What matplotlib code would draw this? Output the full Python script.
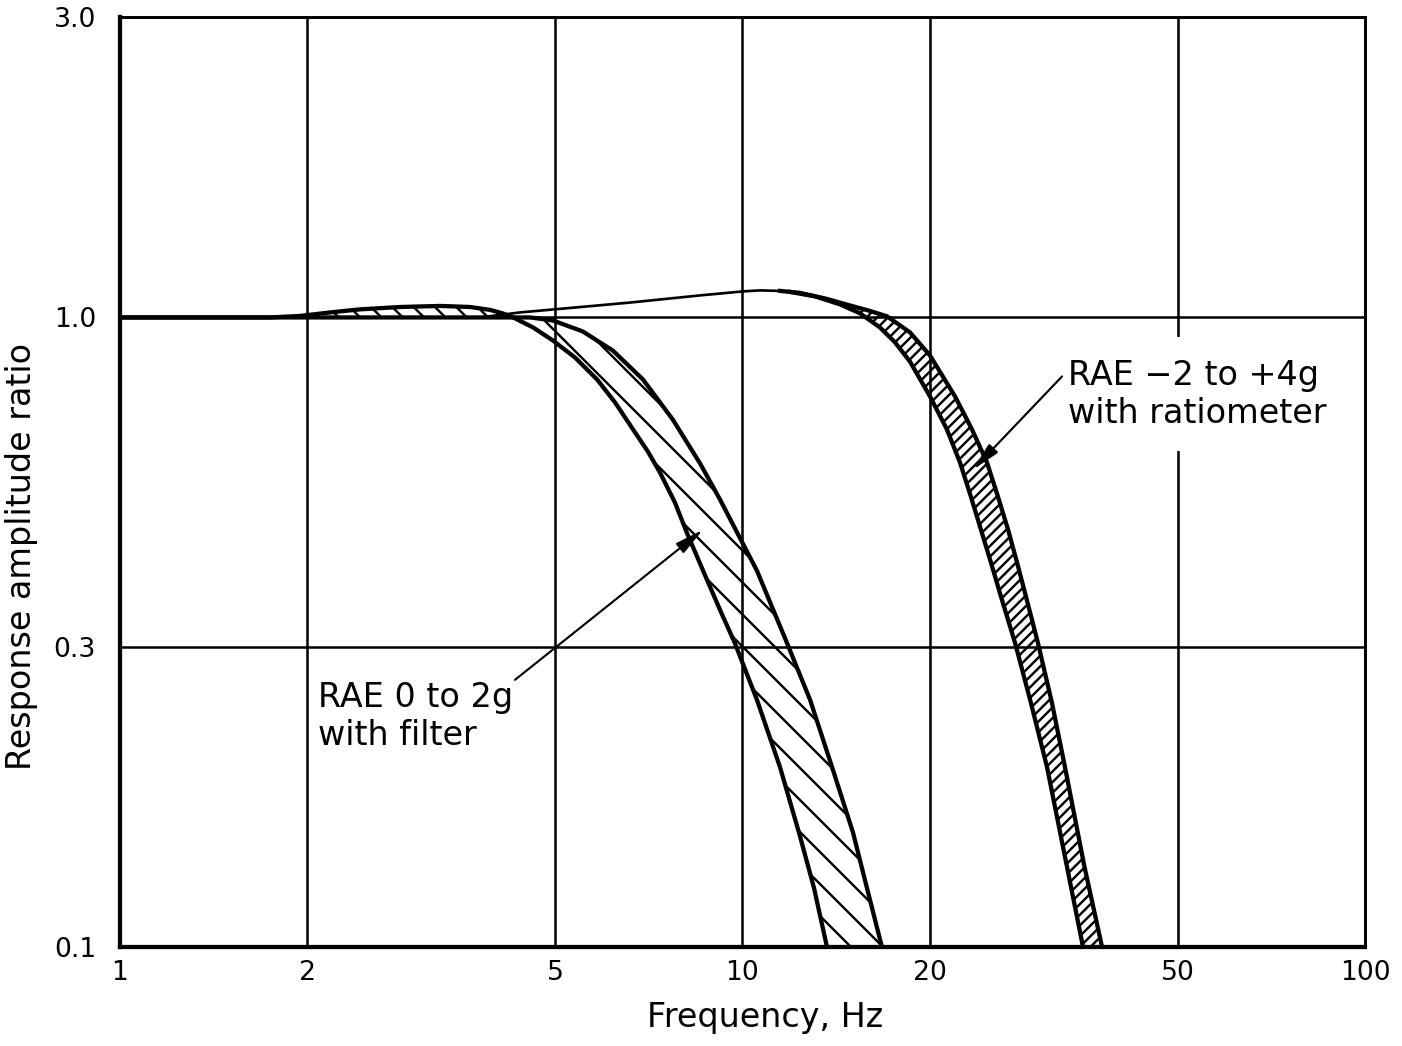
import matplotlib.pyplot as plt

# Filter channel (RAE 0 to 2g): lower edge of the response band,
# including the small rise above unity between 2 and 4 Hz
filt_lo_freq = [1.0, 1.742, 1.946, 2.175, 2.43, 2.82, 3.27, 3.65, 3.93, 4.12, 4.28,
                4.61, 4.96, 5.38, 5.84, 6.24, 6.67, 7.05, 7.37, 7.79, 8.14, 8.77,
                9.24, 9.72, 10.55, 11.49, 12.37, 13.03, 13.67]
filt_lo_amp = [1.0, 1.0, 1.0055, 1.0185, 1.030, 1.039, 1.043, 1.039, 1.028, 1.015, 1.0,
               0.964, 0.919, 0.864, 0.797, 0.733, 0.664, 0.612, 0.567, 0.508, 0.455, 0.383,
               0.340, 0.304, 0.247, 0.193, 0.150, 0.124, 0.1]

# Filter channel: upper edge of the response band
filt_hi_freq = [1.0, 4.56, 4.96, 5.54, 6.19, 6.92, 7.73, 8.55, 9.20, 9.83, 10.55,
                11.79, 12.84, 13.93, 15.05, 15.85, 16.75]
filt_hi_amp = [1.0, 1.0, 0.989, 0.950, 0.886, 0.797, 0.688, 0.586, 0.514, 0.453, 0.396,
               0.304, 0.247, 0.193, 0.152, 0.124, 0.1]

# Ratiometer channel (RAE -2 to +4g): outer edge
ratio_out_freq = [1.0, 3.79, 4.39, 5.38, 6.60, 8.55, 10.02, 10.67, 11.49, 12.37, 13.57,
                  14.88, 16.03, 17.07, 18.58, 20.01, 21.95, 23.37, 24.71, 25.73, 26.71,
                  27.61, 28.54, 29.83, 31.42, 32.97, 35.38, 37.81]
ratio_out_amp = [1.0, 1.0, 1.0185, 1.037, 1.056, 1.084, 1.100, 1.104, 1.102, 1.094, 1.072,
                 1.045, 1.024, 1.004, 0.947, 0.870, 0.749, 0.664, 0.588, 0.519, 0.460,
                 0.408, 0.360, 0.304, 0.244, 0.193, 0.135, 0.1]

# Ratiometer channel: inner edge, splitting off the outer one near 12 Hz
ratio_in_freq = [11.92, 13.08, 14.34, 15.45, 16.63, 17.58, 18.58, 20.01, 21.30, 22.36,
                 23.28, 24.16, 25.07, 26.02, 27.41, 29.07, 30.85, 32.97, 35.24]
ratio_in_amp = [1.098, 1.080, 1.049, 1.015, 0.964, 0.913, 0.851, 0.749, 0.664, 0.588,
                0.519, 0.460, 0.408, 0.360, 0.304, 0.244, 0.193, 0.139, 0.1]

x_ticks = [1, 2, 5, 10, 20, 50, 100]
x_labels = ["1", "2", "5", "10", "20", "50", "100"]
y_ticks = [0.1, 0.3, 1.0, 3.0]
y_labels = ["0.1", "0.3", "1.0", "3.0"]

plt.rcParams["font.family"] = ["DejaVu Sans"]
plt.rcParams["hatch.color"] = "black"
plt.rcParams["hatch.linewidth"] = 0.9
plt.rcParams["lines.solid_joinstyle"] = "round"

dpi = 192
fig = plt.figure(figsize=(1402 / dpi, 1046 / dpi), dpi=dpi)
ax = fig.add_axes([0.0856, 0.0946, 0.888, 0.8891])
ax.set_xscale("log")
ax.set_yscale("log")
ax.set_xlim(1, 100)
ax.set_ylim(0.1, 3.0)

# hatched bands
ax.fill_between(filt_lo_freq[:11], filt_lo_amp[:11], 1.0, facecolor="none",
                edgecolor="black", linewidth=0, hatch="\\\\\\")
ax.fill(filt_lo_freq[10:] + filt_hi_freq[:0:-1], filt_lo_amp[10:] + filt_hi_amp[:0:-1],
        facecolor="none", edgecolor="black", linewidth=0, hatch="\\\\")
ax.fill(ratio_out_freq[8:] + ratio_in_freq[::-1], ratio_out_amp[8:] + ratio_in_amp[::-1],
        facecolor="none", edgecolor="black", linewidth=0, hatch="//////")

# band edges
ax.plot(filt_lo_freq, filt_lo_amp, color="black", lw=1.6)
ax.plot(filt_hi_freq, filt_hi_amp, color="black", lw=1.6)
ax.plot(ratio_out_freq, ratio_out_amp, color="black", lw=1.0)
ax.plot(ratio_out_freq[8:], ratio_out_amp[8:], color="black", lw=1.6)
ax.plot(ratio_in_freq, ratio_in_amp, color="black", lw=1.6)

ax.set_xticks(x_ticks, x_labels)
ax.set_yticks(y_ticks, y_labels)
ax.minorticks_off()
ax.tick_params(length=0, labelsize=10)
ax.tick_params(axis="x", pad=5)
ax.tick_params(axis="y", pad=9)
ax.grid(True, color="black", lw=0.95)

for side, w in [("left", 1.6), ("bottom", 1.6), ("top", 1.1), ("right", 1.1)]:
    ax.spines[side].set_linewidth(w)

ax.set_xlabel("Frequency, Hz", fontsize=12.5)
ax.set_ylabel("Response amplitude ratio", fontsize=12.5)
ax.xaxis.set_label_coords(0.518, -0.058)
ax.yaxis.set_label_coords(-0.066, 0.42)

# labels with leader arrows
arrow = dict(arrowstyle="-|>,head_length=0.6,head_width=0.13", color="black",
             lw=0.8, mutation_scale=15, shrinkA=0, shrinkB=0)
ax.text(33.3, 0.86, "RAE \u22122 to +4g\nwith ratiometer", fontsize=12.5, ha="left",
        va="top", linespacing=1.2, zorder=3,
        bbox=dict(facecolor="white", edgecolor="none", pad=8))
ax.annotate("", xy=(23.46, 0.573), xytext=(32.61, 0.806), arrowprops=arrow, zorder=4)
ax.text(2.08, 0.265, "RAE 0 to 2g\nwith filter", fontsize=12.5, ha="left", va="top",
        linespacing=1.2, zorder=3)
ax.annotate("", xy=(8.64, 0.46), xytext=(4.31, 0.2657), arrowprops=arrow, zorder=4)

fig.savefig("out.png", dpi=dpi, facecolor="white")
